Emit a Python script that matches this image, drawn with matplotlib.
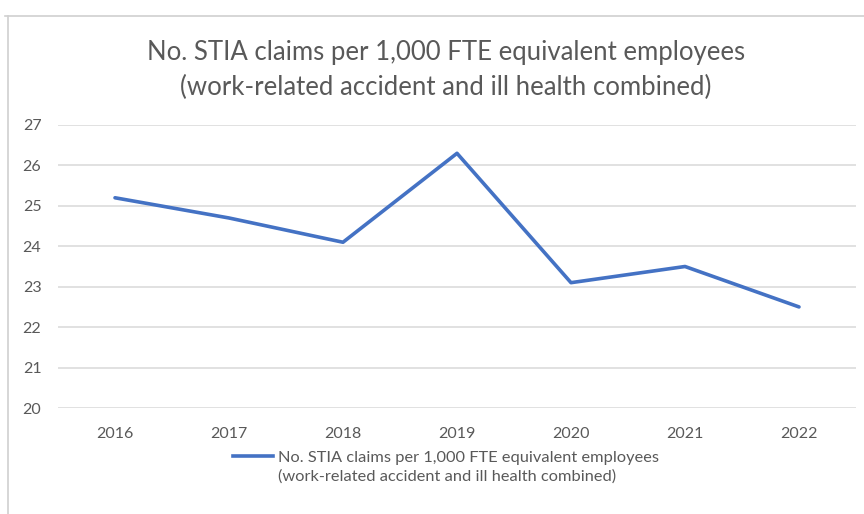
import matplotlib
matplotlib.use("Agg")
import matplotlib.pyplot as plt
from matplotlib.lines import Line2D

years = ["2016", "2017", "2018", "2019", "2020", "2021", "2022"]
claims = [25.2, 24.7, 24.1, 26.3, 23.1, 23.5, 22.5]
yticks = [20, 21, 22, 23, 24, 25, 26, 27]
title = "No. STIA claims per 1,000 FTE equivalent employees\n(work-related accident and ill health combined)"
series_label = "No. STIA claims per 1,000 FTE equivalent employees\n(work-related accident and ill health combined)"

plt.rcParams['font.family'] = ['Lato', 'DejaVu Sans']
grey = "#595959"

fig = plt.figure(figsize=(8.64, 5.14), dpi=100)
W, H = 864, 514
ax = fig.add_axes([58 / W, 1 - 408 / H, (856 - 58) / W, (408 - 125) / H])

x = list(range(len(years)))
ax.plot(x, claims, color="#4472C4", lw=2.6, solid_capstyle="round", zorder=3)
ax.set_xlim(-0.5, len(years) - 0.5)
ax.set_ylim(20, 27)
ax.set_yticks(yticks)
ax.set_xticks(x)
ax.set_xticklabels(years)
ax.yaxis.grid(True, color="#d9d9d9", lw=1.1)
ax.set_axisbelow(True)
for s in ax.spines.values():
    s.set_visible(False)
ax.tick_params(length=0, labelsize=11.5, labelcolor=grey)
ax.tick_params(axis="y", pad=12)
ax.tick_params(axis="x", pad=14)

fig.text(446 / W, 1 - 70 / H, title, ha="center", va="center",
         fontsize=18.5, color=grey, linespacing=1.45)

# chart border (top and left)
fig.add_artist(Line2D([5 / W, 1], [1 - 16 / H, 1 - 16 / H], color="#d0d0d0", lw=1.2))
fig.add_artist(Line2D([8 / W, 8 / W], [0, 1 - 16 / H], color="#d0d0d0", lw=1.2))

# legend
fig.add_artist(Line2D([233 / W, 273 / W], [1 - 456 / H, 1 - 456 / H], color="#4472C4", lw=2.6))
fig.text(278 / W, 1 - 467 / H, series_label, ha="left", va="center", fontsize=11.8,
         color=grey, linespacing=1.4)

fig.savefig("out.png", dpi=100, facecolor="white")
